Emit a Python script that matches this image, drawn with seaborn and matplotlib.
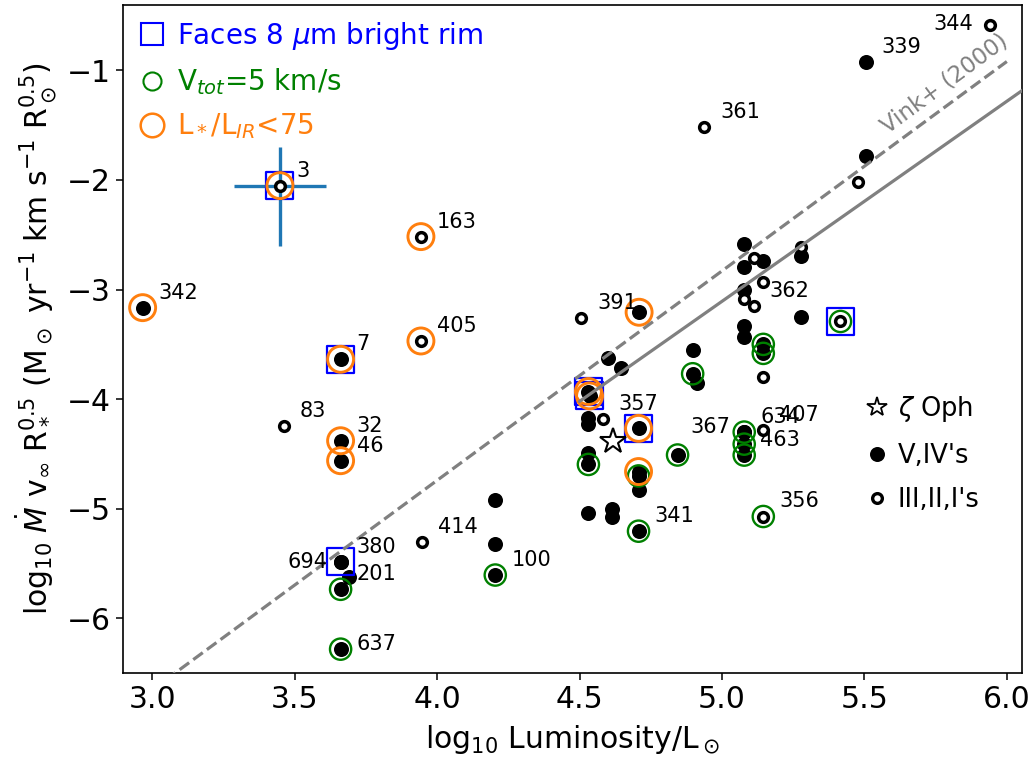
import numpy as np
import pandas as pd
import matplotlib
matplotlib.use("Agg")
import matplotlib.pyplot as plt
from matplotlib.lines import Line2D
import seaborn as sns

sns.set_style("ticks")
plt.rcParams["font.family"] = ["DejaVu Sans"]
plt.rcParams["mathtext.fontset"] = "dejavusans"
for k in ["text.color", "axes.labelcolor", "xtick.color", "ytick.color", "axes.edgecolor"]:
    plt.rcParams[k] = "black"

# ---------------- data ----------------
# Dwarfs / subgiants (V, IV) : filled
solid_lum = [2.966, 3.661, 3.661, 3.661, 3.661, 3.661, 3.691, 3.661, 3.661,
             4.204, 4.204, 4.204, 4.531, 4.535, 4.531, 4.531, 4.531, 4.531,
             4.531, 4.615, 4.615, 4.601, 4.644, 4.709, 4.707, 4.707, 4.707,
             4.707, 4.707, 4.844, 4.897, 4.897, 4.913, 5.078, 5.145, 5.078,
             5.279, 5.078, 5.279, 5.078, 5.078, 5.145, 5.145, 5.078, 5.078,
             5.078, 5.078, 5.505, 5.505]
solid_wind = [-3.165, -3.636, -4.379, -4.561, -5.483, -5.483, -5.626, -5.734, -6.28,
              -4.920, -5.323, -5.604, -3.93, -3.97, -4.175, -4.227, -4.494, -4.595,
              -5.041, -5.00, -5.07, -3.628, -3.719, -3.207, -4.266, -4.66, -4.70,
              -4.83, -5.204, -4.509, -3.555, -3.768, -3.85, -2.584, -2.740, -2.791,
              -2.693, -3.004, -3.246, -3.332, -3.435, -3.50, -3.582, -4.30, -4.30,
              -4.41, -4.51, -0.923, -1.781]
solid_id = ["342", "7", "32", "46", "380", "694", "", "201", "637",
            "", "", "100", "", "", "", "", "", "",
            "", "", "", "", "", "", "", "", "",
            "", "341", "", "", "", "", "", "", "",
            "", "", "", "", "", "", "", "634", "367",
            "", "463", "339", ""]
solid_rim = [0, 1, 0, 0, 1, 0, 0, 0, 0,
             0, 0, 0, 1, 1, 0, 0, 0, 0,
             0, 0, 0, 0, 0, 0, 1, 0, 0,
             0, 0, 0, 0, 0, 0, 0, 0, 0,
             0, 0, 0, 0, 0, 0, 0, 0, 0,
             0, 0, 0, 0]
solid_vtot = [0, 0, 0, 0, 0, 0, 0, 1, 1,
              0, 0, 1, 0, 0, 0, 0, 0, 1,
              0, 0, 0, 0, 0, 0, 0, 0, 1,
              0, 1, 1, 0, 1, 0, 0, 0, 0,
              0, 0, 0, 0, 0, 1, 1, 1, 0,
              1, 1, 0, 0]
solid_lowir = [1, 1, 1, 1, 0, 0, 0, 0, 0,
               0, 0, 0, 1, 1, 0, 0, 0, 0,
               0, 0, 0, 0, 0, 1, 1, 1, 0,
               0, 0, 0, 0, 0, 0, 0, 0, 0,
               0, 0, 0, 0, 0, 0, 0, 0, 0,
               0, 0, 0, 0]

# Giants / supergiants (III, II, I) : open
open_lum = [3.448, 3.943, 3.943, 3.462, 3.946, 4.505, 4.581, 4.937, 5.112,
            5.279, 5.145, 5.078, 5.112, 5.416, 5.145, 5.145, 5.145, 5.940, 5.477]
open_wind = [-2.052, -2.517, -3.469, -4.245, -5.30, -3.262, -4.18, -1.519, -2.709,
             -2.61, -2.933, -3.086, -3.150, -3.291, -3.80, -4.28, -5.07, -0.586, -2.018]
open_id = ["3", "163", "405", "83", "414", "391", "357", "361", "",
           "", "", "", "362", "", "", "407", "356", "344", ""]
open_rim = [1, 0, 0, 0, 0, 0, 0, 0, 0, 0, 0, 0, 0, 1, 0, 0, 0, 0, 0]
open_vtot = [0, 0, 0, 0, 0, 0, 0, 0, 0, 0, 0, 0, 0, 1, 0, 0, 1, 0, 0]
open_lowir = [1, 1, 1, 0, 0, 0, 0, 0, 0, 0, 0, 0, 0, 0, 0, 0, 0, 0, 0]

# error bar on star 3
err_lum = [3.448]
err_wind = [-2.052]
err_x = [0.16]
err_y_low = [0.547]
err_y_high = [0.350]

# zeta Oph
zoph_lum = [4.618]
zoph_wind = [-4.38]

# lines
vink_lum = [3.0, 6.0]
vink_wind = [-6.65, -0.92]
fit_lum = [4.50, 6.10]
fit_wind = [-4.02, -1.10]

solid = pd.DataFrame(dict(lum=solid_lum, wind=solid_wind, id=solid_id,
                          rim=solid_rim, vtot=solid_vtot, lowir=solid_lowir))
opn = pd.DataFrame(dict(lum=open_lum, wind=open_wind, id=open_id,
                        rim=open_rim, vtot=open_vtot, lowir=open_lowir))
allp = pd.concat([solid, opn], ignore_index=True)

# ---------------- figure ----------------
fig = plt.figure(figsize=(10.35, 7.65), dpi=100)
ax = fig.add_axes([0.1191, 0.1199, 0.868, 0.8742])

ax.errorbar(err_lum, err_wind, xerr=err_x, yerr=[err_y_low, err_y_high],
            fmt="none", ecolor="#1f77b4", elinewidth=2.4, capsize=0, zorder=2)

sns.scatterplot(data=solid, x="lum", y="wind", color="black", s=117,
                linewidth=0, ax=ax, zorder=3, legend=False)
sns.scatterplot(data=opn, x="lum", y="wind", color="white", edgecolor="black",
                s=49, linewidth=2.5, ax=ax, zorder=4, legend=False)

rim = allp[allp.rim == 1]
ax.scatter(rim.lum, rim.wind, marker="s", s=19.5**2, facecolors="none",
           edgecolors="blue", linewidths=1.6, zorder=5)
vt = allp[allp.vtot == 1]
ax.scatter(vt.lum, vt.wind, marker="o", s=15.3**2, facecolors="none",
           edgecolors="green", linewidths=1.7, zorder=6)
lo = allp[allp.lowir == 1]
ax.scatter(lo.lum, lo.wind, marker="o", s=18.7**2, facecolors="none",
           edgecolors="#ff7f0e", linewidths=2.1, zorder=7)

ax.plot(zoph_lum, zoph_wind, marker="*", ms=19, mfc="white", mec="black",
        mew=1.5, ls="none", zorder=8)

ax.plot(vink_lum, vink_wind, ls="--", color="gray", lw=2.3, zorder=9)
ax.plot(fit_lum, fit_wind, ls="-", color="gray", lw=2.3, zorder=9)
ax.text(5.783, -1.125, "Vink+ (2000)", color="gray", fontsize=16.5,
        rotation=36.5, ha="center", va="center", rotation_mode="anchor")

# labels
special = {
    "344": dict(xytext=(-12.2, 0.5), ha="right", va="center"),
    "694": dict(xytext=(-9.1, 0.0), ha="right", va="center"),
    "367": dict(xytext=(-10.0, 3.8), ha="right", va="center"),
    "637": dict(xytext=(11.5, -0.7), ha="left", va="baseline"),
}
for _, r in allp[allp.id != ""].iterrows():
    kw = special.get(r.id, dict(xytext=(11.5, 6.5), ha="left", va="baseline"))
    ax.annotate(r.id, (r.lum, r.wind), textcoords="offset points",
                fontsize=15, color="black", zorder=10, **kw)

ax.set_xlim(2.898, 6.052)
ax.set_ylim(-6.50, -0.40)
ax.set_xticks([3.0, 3.5, 4.0, 4.5, 5.0, 5.5, 6.0])
ax.set_yticks([-6, -5, -4, -3, -2, -1])
ax.set_yticklabels(["\u22126", "\u22125", "\u22124", "\u22123", "\u22122", "\u22121"])
ax.tick_params(labelsize=21.5, length=5.3, width=1.1, direction="out",
               color="black", labelcolor="black")
for s in ax.spines.values():
    s.set_linewidth(1.2)
    s.set_color("black")
    s.set_visible(True)

ax.set_xlabel(r"log$_{10}$ Luminosity/L$_\odot$", fontsize=21.5, labelpad=6,
              color="black")
ax.set_ylabel(r"log$_{10}$ $\dot{M}$ v$_\infty$ R$_*^{0.5}$ (M$_\odot$ yr$^{-1}$ km s$^{-1}$ R$_\odot^{0.5}$)",
              fontsize=21.5, labelpad=6, color="black")

# legend 1 (coloured criteria)
h1 = [Line2D([], [], marker="s", ls="none", mfc="none", mec="blue", ms=15.6, mew=1.5),
      Line2D([], [], marker="o", ls="none", mfc="none", mec="green", ms=13, mew=1.5),
      Line2D([], [], marker="o", ls="none", mfc="none", mec="#ff7f0e", ms=17, mew=1.8)]
l1 = ax.legend(h1, [r"Faces 8 $\mu$m bright rim", r"V$_{tot}$=5 km/s", r"L$_*$/L$_{IR}$<75"],
               loc="upper left", bbox_to_anchor=(0.017, 0.977), frameon=False,
               fontsize=20, handlelength=1.0, handletextpad=0.38, labelspacing=0.52,
               borderpad=0, borderaxespad=0, labelcolor=["blue", "green", "#ff7f0e"])
ax.add_artist(l1)

h2 = [Line2D([], [], marker="*", ls="none", mfc="white", mec="black", ms=15, mew=1.3),
      Line2D([], [], marker="o", ls="none", mfc="black", mec="black", ms=10.8, mew=0),
      Line2D([], [], marker="o", ls="none", mfc="white", mec="black", ms=7, mew=2.4)]
ax.legend(h2, [r"$\zeta$ Oph", "V,IV's", "III,II,I's"], loc="upper left",
          bbox_to_anchor=(0.8275, 0.4176), frameon=False, fontsize=18.5,
          handlelength=0.8, handletextpad=0.4, labelspacing=0.72,
          borderpad=0, borderaxespad=0)

fig.savefig("out.png", dpi=100)
